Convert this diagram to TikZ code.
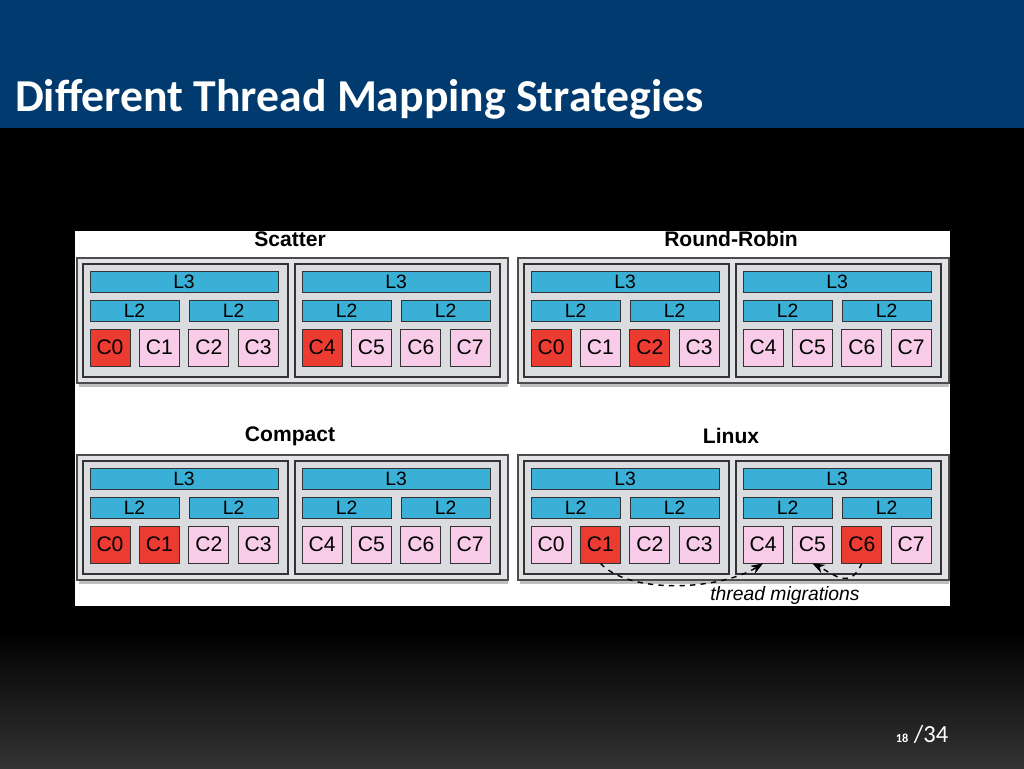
\documentclass[tikz,border=0pt]{standalone}
\usepackage{fontspec}
\setmainfont{Liberation Sans}
\newfontfamily\titlefont{Carlito}
\usetikzlibrary{positioning,arrows.meta}
\definecolor{hdr}{RGB}{0,58,110}
\definecolor{cachec}{RGB}{58,176,214}
\definecolor{corec}{RGB}{248,204,232}
\definecolor{hotc}{RGB}{236,60,50}
\definecolor{sockc}{RGB}{218,220,224}
\tikzset{
  cache/.style={draw=black!80, fill=cachec, inner sep=0pt, font=\fontsize{11}{11}\selectfont},
  core/.style={draw=black!80, fill=corec, inner sep=0pt, minimum width=0.8cm, minimum height=0.74cm, font=\fontsize{12}{12}\selectfont},
  hot/.style={core, fill=hotc},
  socket/.style={draw=black!80, fill=sockc, line width=0.8pt},
  panel/.style={draw=black!70, fill=sockc!80, line width=1pt},
  ptitle/.style={font=\bfseries\fontsize{12}{13}\selectfont}
}
\begin{document}
\begin{tikzpicture}[x=0.02cm, y=-0.02cm]
\useasboundingbox (0,0) rectangle (1024,768);
\shade[top color=black, bottom color=black!80!white] (0,630) rectangle (1024,768);
\fill[black] (0,128) rectangle (1024,630);
\fill[hdr] (0,0) rectangle (1024,128);
\node[anchor=base west, text=white, font=\titlefont\bfseries\fontsize{26}{28}\selectfont] (title) at (9,111) {Different Thread Mapping Strategies};
\node[anchor=base, text=white, font=\titlefont\fontsize{14}{14}\selectfont] (page) at (922,742) {{\scriptsize\bfseries 18} /34};
\fill[white] (75,231) rectangle (950,606);
% panels: name, x offset, y offset, title, hot cores
\foreach \p/\dx/\dy/\ttl/\hl in {sc/0/0/Scatter/{0,4}, rr/441/0/Round-Robin/{0,2}, cp/0/197/Compact/{0,1}, lx/441/197/Linux/{1,6}} {
  \begin{scope}[shift={(\dx,\dy)}]
    \fill[black!25] (79,262) rectangle (508,387);
    \draw[panel] (77,258) rectangle (508,383);
    \node[ptitle] (\p-t) at (290,239) {\ttl};
    \foreach \s in {0,1} {
      \begin{scope}[shift={(212*\s,0)}]
        \draw[socket] (83,264) rectangle (288,377);
        \node[cache, minimum width=3.76cm, minimum height=0.42cm] (\p-l3-\s) at (184,281.5) {L3};
        \node[cache, minimum width=1.78cm, minimum height=0.42cm] (\p-l2a-\s) at (134.5,310.5) {L2};
        \node[cache, minimum width=1.78cm, minimum height=0.42cm] (\p-l2b-\s) at (233.5,310.5) {L2};
      \end{scope}
    }
    \foreach \c in {0,...,7} {
      \pgfmathtruncatemacro{\s}{\c/4}
      \pgfmathsetmacro{\cx}{110+49.4*mod(\c,4)+212*\s}
      \def\st{core}
      \foreach \h in \hl {\ifnum\h=\c\global\def\st{hot}\fi}
      \node[\st] (\p-c\c) at (\cx,347.5) {C\c};
    }
  \end{scope}
}
\draw[dashed, thick, -{Stealth[length=7pt]}] (lx-c1.south) .. controls (630,595) and (720,590) .. (lx-c4.south);
\draw[dashed, thick, -{Stealth[length=7pt]}] (lx-c6.south) .. controls (850,590) and (835,575) .. (lx-c5.south);
\node[font=\itshape\fontsize{11}{12}\selectfont] (mig) at (785,595) {thread migrations};
\end{tikzpicture}
\end{document}
